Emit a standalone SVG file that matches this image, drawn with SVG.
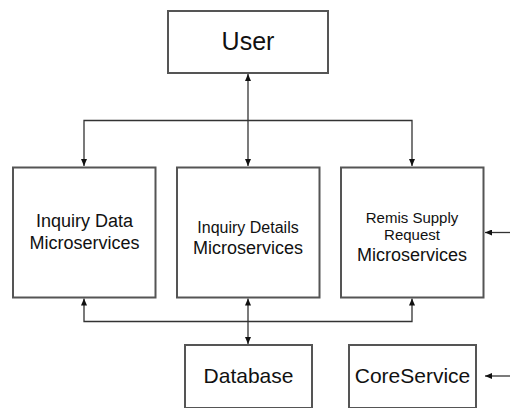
<svg xmlns="http://www.w3.org/2000/svg" width="510" height="408" viewBox="0 0 510 408">
<style>
.box{fill:#fff;stroke:#555;stroke-width:2}
.t{font-family:"Liberation Sans",Arial,sans-serif;fill:#111;text-anchor:middle}
.c{fill:none;stroke:#333;stroke-width:1.3}
</style>
<defs>
<marker id="ah" markerWidth="8" markerHeight="6" refX="7" refY="3" orient="auto-start-reverse" markerUnits="userSpaceOnUse">
<path d="M0,0 L7,3 L0,6 z" fill="#111"/>
</marker>
</defs>
<rect width="510" height="408" fill="#fff"/>
<g id="connectors">
<path class="c" d="M248,74 V166" marker-start="url(#ah)" marker-end="url(#ah)"/>
<path class="c" d="M84,166 V120.5 H412 V166" marker-start="url(#ah)" marker-end="url(#ah)"/>
<path class="c" d="M84,298.5 V321.5 H412 V298.5" marker-start="url(#ah)" marker-end="url(#ah)"/>
<path class="c" d="M248,298.5 V344" marker-start="url(#ah)" marker-end="url(#ah)"/>
<path class="c" d="M510,232.5 H485" marker-end="url(#ah)"/>
<path class="c" d="M510,376 H485" marker-end="url(#ah)"/>
</g>
<g id="user">
<rect class="box" x="168" y="11" width="160" height="62"/>
<text class="t" x="248" y="50" font-size="25">User</text>
</g>
<g id="inquiry-data">
<rect class="box" x="13" y="167.5" width="142.5" height="130"/>
<text class="t" x="84.5" y="226.5" font-size="18">Inquiry Data</text>
<text class="t" x="84.5" y="249" font-size="18">Microservices</text>
</g>
<g id="inquiry-details">
<rect class="box" x="177" y="167.5" width="142.5" height="130"/>
<text class="t" x="248" y="232.5" font-size="16">Inquiry Details</text>
<text class="t" x="248" y="253.5" font-size="18">Microservices</text>
</g>
<g id="remis">
<rect class="box" x="341" y="167.5" width="142.5" height="130"/>
<text class="t" x="412" y="222.5" font-size="15">Remis Supply</text>
<text class="t" x="412" y="240" font-size="15">Request</text>
<text class="t" x="412" y="261" font-size="18">Microservices</text>
</g>
<g id="database">
<rect class="box" x="185" y="345" width="127" height="63"/>
<text class="t" x="248.5" y="383" font-size="21">Database</text>
</g>
<g id="coreservice">
<rect class="box" x="349" y="345" width="127" height="63"/>
<text class="t" x="412.5" y="383" font-size="21">CoreService</text>
</g>
</svg>
